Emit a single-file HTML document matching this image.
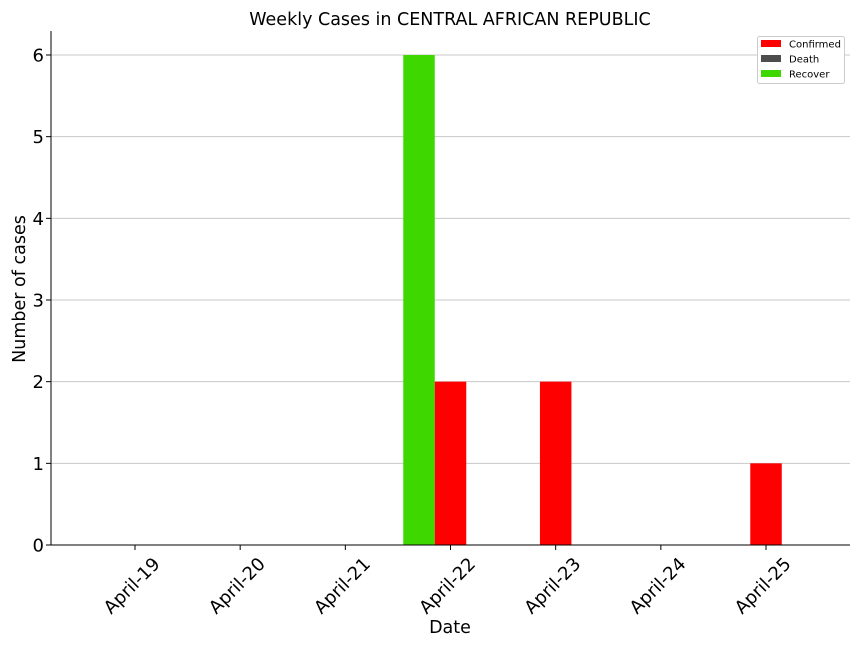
<!DOCTYPE html>
<html><head><meta charset="utf-8"><style>
body{margin:0;background:#fff;font-family:"Liberation Sans","DejaVu Sans",sans-serif}
svg text{font-family:"DejaVu Sans","Liberation Sans",sans-serif}
</style></head><body>
<svg id="chart" width="864" height="648" xmlns="http://www.w3.org/2000/svg">
<text x="450" y="25" font-size="17.5" text-anchor="middle">Weekly Cases in CENTRAL AFRICAN REPUBLIC</text>
<g id="grid"></g>
<g id="bars"></g>
<g id="axes"></g>
<text x="450" y="633" font-size="17.5" text-anchor="middle">Date</text>
<text transform="translate(25,289) rotate(-90)" font-size="17.5" text-anchor="middle">Number of cases</text>
<g>
<rect x="757.5" y="36.5" width="87" height="47" rx="2" fill="#fff" stroke="#ccc"/>
<g><rect x="761" y="40" width="20" height="7" fill="#ff0000"/><text x="789" y="47.5" font-size="10">Confirmed</text></g>
<g><rect x="761" y="55" width="20" height="7" fill="#4d4d4d"/><text x="789" y="62.5" font-size="10">Death</text></g>
<g><rect x="761" y="70" width="20" height="7" fill="#3fd700"/><text x="789" y="77.5" font-size="10">Recover</text></g>
</g>
</svg>
<script>
const categories=["April-19","April-20","April-21","April-22","April-23","April-24","April-25"];
const confirmed=[0,0,0,2,2,0,1];
const death=[0,0,0,0,0,0,0];
const recover=[0,0,0,6,0,0,0];
const yTicks=[0,1,2,3,4,5,6];
const NS="http://www.w3.org/2000/svg";
const L=51,R=850,B=545,T=31;
const y=v=>B-v*(490/6);
const x=i=>135+i*105.17;
const bw=31.5;
function mk(tag,attrs,parent){const e=document.createElementNS(NS,tag);for(const k in attrs)e.setAttribute(k,attrs[k]);parent.appendChild(e);return e;}
const grid=document.getElementById('grid'),bars=document.getElementById('bars'),axes=document.getElementById('axes');
yTicks.forEach(t=>{
 const g=mk('line',{x1:L,x2:R,y1:y(t),y2:y(t),stroke:'#c8c8c8','stroke-width':1},grid);
 
 
 mk('line',{x1:L-5,x2:L,y1:y(t),y2:y(t),stroke:'#000'},axes);
 const tx=mk('text',{x:L-7,y:y(t)+6.5,'font-size':18,'text-anchor':'end'},axes);
 tx.textContent=t;
 
 
});
categories.forEach((c,i)=>{
 const series=[[recover,-bw,'#3fd700','recover'],[confirmed,0,'#ff0000','confirmed'],[death,bw,'#4d4d4d','death']];
 series.forEach(([arr,off,col,nm])=>{
  if(arr[i]>0){
   const r=mk('rect',{x:x(i)+off-bw/2,y:y(arr[i]),width:bw,height:B-y(arr[i]),fill:col},bars);
   
   
  }
 });
 mk('line',{x1:x(i),x2:x(i),y1:B,y2:B+5,stroke:'#000'},axes);
 const tx=mk('text',{transform:`translate(${x(i)+26},${B+20}) rotate(-45)`,'font-size':18,'text-anchor':'end'},axes);
 tx.textContent=c;
 
 
});
mk('line',{x1:L,x2:L,y1:T,y2:B,stroke:'#000'},axes);
mk('line',{x1:L,x2:R,y1:B,y2:B,stroke:'#000'},axes);
</script>
</body></html>
